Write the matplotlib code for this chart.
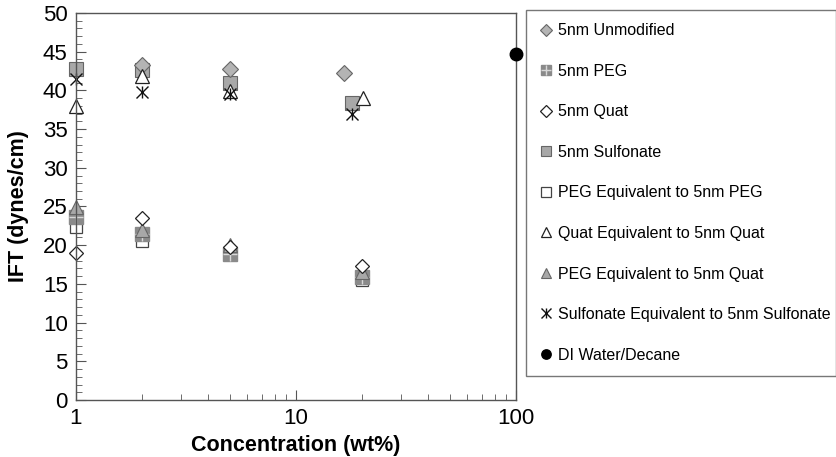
import matplotlib
matplotlib.use("Agg")
import matplotlib.pyplot as plt
from matplotlib.ticker import MultipleLocator, FixedLocator, LogLocator, NullFormatter
from matplotlib.legend_handler import HandlerTuple

plt.rcParams["font.family"] = ["Liberation Sans", "DejaVu Sans"]

# IFT (dynes/cm) vs concentration (wt%)
unmod_x = [2, 5, 16.5]
unmod_y = [43.3, 42.8, 42.3]

peg_x = [1, 2, 5, 20]
peg_y = [23.7, 21.5, 18.8, 15.9]

quat_x = [1, 2, 5, 20]
quat_y = [19.0, 23.5, 19.8, 17.3]

sulf_x = [1, 2, 5, 18]
sulf_y = [42.8, 42.6, 41.0, 38.4]

peg_eq_x = [1, 2, 5, 20]
peg_eq_y = [22.4, 20.6, 19.0, 15.5]

quat_eq_x = [1, 2, 5, 20.2]
quat_eq_y = [38.0, 41.8, 39.9, 39.0]

peg_eq_quat_x = [1, 2, 5, 20]
peg_eq_quat_y = [24.9, 22.0, 20.0, 16.5]

sulf_eq_x = [1, 2, 5, 18]
sulf_eq_y = [41.5, 39.8, 39.5, 37.0]

water_x = [100]
water_y = [44.7]

fig = plt.figure(figsize=(8.37, 4.57), dpi=100)
ax = fig.add_axes([0.0908, 0.1247, 0.5257, 0.847])

edge = "#666666"
kw = dict(ls="none", clip_on=False)
h_peg_eq = ax.plot(peg_eq_x, peg_eq_y, "s", ms=9, mfc="white", mec="#444444", mew=0.9, **kw)[0]
h_peg_sq = ax.plot(peg_x, peg_y, "s", ms=10, mfc="#8a8a8a", mec="#8a8a8a", **kw)[0]
h_peg_cr = ax.plot(peg_x, peg_y, "+", ms=10, mec="#d8d8d8", mew=1.0, **kw)[0]
h_peg_eq_quat = ax.plot(peg_eq_quat_x, peg_eq_quat_y, "^", ms=10, mfc="#a8a8a8", mec=edge, mew=0.8, **kw)[0]
h_quat = ax.plot(quat_x, quat_y, "D", ms=7.5, mfc="white", mec="#222222", mew=0.9, **kw)[0]
h_sulf = ax.plot(sulf_x, sulf_y, "s", ms=10, mfc="#a8a8a8", mec=edge, mew=0.8, **kw)[0]
h_unmod = ax.plot(unmod_x, unmod_y, "D", ms=8, mfc="#b4b4b4", mec=edge, mew=0.8, **kw)[0]
h_quat_eq = ax.plot(quat_eq_x, quat_eq_y, "^", ms=10, mfc="white", mec="#222222", mew=0.9, **kw)[0]
h_sulf_eq = ax.plot(sulf_eq_x, sulf_eq_y, "x", ms=9, mec="#111111", mew=1.0, **kw)[0]
h_sulf_eq2 = ax.plot(sulf_eq_x, sulf_eq_y, "|", ms=9, mec="#111111", mew=1.0, **kw)[0]
h_water = ax.plot(water_x, water_y, "o", ms=9, mfc="black", mec="black", zorder=5, **kw)[0]

ax.set_xscale("log")
ax.set_xlim(1, 100)
ax.set_ylim(0, 50)
ax.xaxis.set_major_locator(FixedLocator([1, 10, 100]))
ax.set_xticklabels(["1", "10", "100"])
ax.xaxis.set_minor_locator(LogLocator(base=10, subs=range(2, 10)))
ax.xaxis.set_minor_formatter(NullFormatter())
ax.yaxis.set_major_locator(MultipleLocator(5))
ax.yaxis.set_minor_locator(MultipleLocator(1))

for s in ax.spines.values():
    s.set_color("#555555")
    s.set_linewidth(1.0)
ax.tick_params(which="both", direction="in", colors="#555555", labelcolor="black")
ax.tick_params(which="major", length=7, labelsize=16, pad=6)
ax.tick_params(which="minor", length=4)

ax.set_xlabel("Concentration (wt%)", fontsize=15.5, fontweight="bold", labelpad=4)
ax.set_ylabel("IFT (dynes/cm)", fontsize=15.5, fontweight="bold", labelpad=10)

handles = [h_unmod, (h_peg_sq, h_peg_cr), h_quat, h_sulf, h_peg_eq, h_quat_eq,
           h_peg_eq_quat, (h_sulf_eq, h_sulf_eq2), h_water]
labels = ["5nm Unmodified", "5nm PEG", "5nm Quat", "5nm Sulfonate",
          "PEG Equivalent to 5nm PEG", "Quat Equivalent to 5nm Quat",
          "PEG Equivalent to 5nm Quat", "Sulfonate Equivalent to 5nm Sulfonate",
          "DI Water/Decane"]
leg = fig.legend(handles, labels, loc="upper left", bbox_to_anchor=(0.629, 0.979, 0.37, 0.0),
                 mode="expand", fontsize=11.5, labelspacing=1.6, markerscale=0.75,
                 handlelength=0.8, handletextpad=0.3, borderpad=0.85, borderaxespad=0,
                 fancybox=False, frameon=True,
                 handler_map={tuple: HandlerTuple(ndivide=1, pad=0)})
leg.get_frame().set_edgecolor("#555555")
leg.get_frame().set_linewidth(1.0)

fig.savefig("out.png", dpi=100)
